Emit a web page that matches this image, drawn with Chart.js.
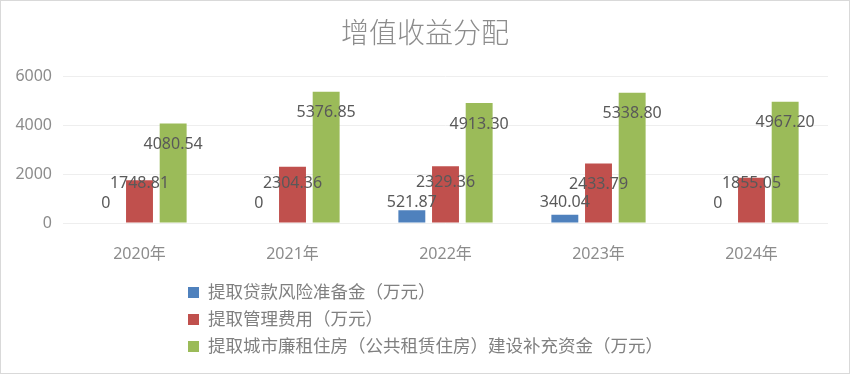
<!DOCTYPE html>
<html>
<head>
<meta charset="utf-8">
<script src="https://cdn.jsdelivr.net/npm/chart.js@4.4.0/dist/chart.umd.min.js"></script>
<style>
body { margin:0; background:#fff; }
#wrap { position:relative; width:850px; height:374px; box-sizing:border-box; border:1px solid #d9d9d9; background:#fff; }
#graph { display:block; }
#legend { position:absolute; left:187px; top:276px; font-family:"Noto Sans CJK SC"; font-size:17.5px; color:#808080; }
.item { height:27px; line-height:27px; white-space:nowrap; }
.box { display:inline-block; width:11px; height:11px; margin-right:9px; vertical-align:middle; position:relative; top:-1px; }
</style>
</head>
<body>
<div id="wrap">
  <canvas id="graph" width="848" height="372"></canvas>
  <div id="legend"></div>
</div>
<script>
let anios = ["2020年","2021年","2022年","2023年","2024年"];
let riesgo = [0, 0, 521.87, 340.04, 0];
let gestion = [1748.81, 2304.36, 2329.36, 2433.79, 1855.05];
let vivienda = [4080.54, 5376.85, 4913.30, 5338.80, 4967.20];
let nombres = ["提取贷款风险准备金（万元）","提取管理费用（万元）","提取城市廉租住房（公共租赁住房）建设补充资金（万元）"];
let ticksY = [0, 2000, 4000, 6000];
let titulo = "增值收益分配";

const colores = ['#4f81bd', '#c0504d', '#9bbb59'];
const fuente = '"Noto Sans", "Noto Sans CJK SC", sans-serif';

function formato(v) {
    return v === 0 ? "0" : v.toFixed(2);
}

// etiquetas de datos como en el original de Excel
const etiquetas = {
    id: 'etiquetas',
    afterDatasetsDraw(chart) {
        const ctx = chart.ctx;
        ctx.save();
        ctx.font = '16px ' + fuente;
        ctx.fillStyle = '#595959';
        ctx.textAlign = 'center';
        ctx.textBaseline = 'middle';
        let puestos = [];
        chart.data.datasets.forEach((ds, i) => {
            chart.getDatasetMeta(i).data.forEach((barra, j) => {
                const texto = formato(ds.data[j]);
                const w = ctx.measureText(texto).width;
                let y = Math.min(barra.y + 21, barra.base - 20);
                puestos.forEach(p => {
                    if (p.j === j && Math.abs(p.y - y) < 16 &&
                        barra.x - w / 2 < p.x + p.w / 2 + 2 && barra.x + w / 2 > p.x - p.w / 2 - 2) {
                        y = p.y - 20;
                    }
                });
                ctx.fillText(texto, barra.x, y);
                puestos.push({j: j, x: barra.x, y: y, w: w});
            });
        });
        ctx.restore();
    }
};

const data = {
    labels: anios,
    datasets: [riesgo, gestion, vivienda].map((serie, i) => ({
        label: nombres[i],
        data: serie,
        backgroundColor: colores[i],
        categoryPercentage: 0.66,
        barPercentage: 0.8
    }))
};

const config = {
    type: 'bar',
    data: data,
    options: {
        responsive: false,
        animation: false,
        layout: { padding: { left: 0, right: 0, top: 0, bottom: 110 } },
        plugins: {
            legend: { display: false },
            tooltip: { enabled: false },
            title: {
                display: true,
                text: titulo,
                color: '#8c8c8c',
                font: { family: '"Noto Sans CJK SC"', size: 28, weight: 300 },
                padding: { top: 15, bottom: 27 }
            }
        },
        scales: {
            x: {
                grid: { display: false },
                border: { display: false },
                ticks: { color: '#8c8c8c', padding: 14, font: { family: fuente, size: 16 } },
                afterFit: s => { s.height = 40; }
            },
            y: {
                min: 0,
                max: ticksY[ticksY.length - 1],
                afterBuildTicks: s => { s.ticks = ticksY.map(v => ({value: v})); },
                grid: { color: '#eeeeee', drawTicks: false },
                border: { display: false },
                ticks: {
                    color: '#8c8c8c', padding: 11, font: { family: fuente, size: 16 },
                    callback: v => String(v)
                },
                afterFit: s => { s.width = 62; }
            },
            // eje vacío a la derecha, solo para dejar el margen
            margen: {
                position: 'right',
                min: 0,
                max: ticksY[ticksY.length - 1],
                grid: { display: false },
                border: { display: false },
                ticks: { display: false },
                afterFit: s => { s.width = 21; }
            }
        }
    },
    plugins: [etiquetas]
};

new Chart(document.getElementById('graph'), config);

const leyenda = document.getElementById('legend');
nombres.forEach((n, i) => {
    const fila = document.createElement('div');
    fila.className = 'item';
    const caja = document.createElement('span');
    caja.className = 'box';
    caja.style.background = colores[i];
    fila.appendChild(caja);
    fila.appendChild(document.createTextNode(n));
    leyenda.appendChild(fila);
});
</script>
</body>
</html>
